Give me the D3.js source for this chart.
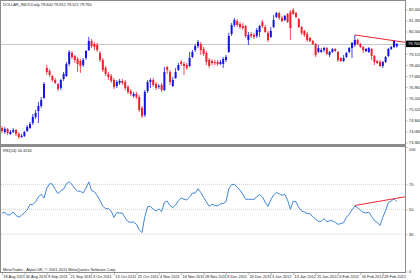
<!DOCTYPE html>
<html><head><meta charset="utf-8">
<script src="https://cdn.jsdelivr.net/npm/d3@7"></script>
<style>html,body{margin:0;padding:0;background:#fff;overflow:hidden}svg{display:block}</style>
</head><body>
<svg id="c" width="420" height="280"></svg>
<script>
const symbol = "DOLLAR_INDX,Daily";
const footer = "MetaTrader - Alpari UK, \u00a9 2001-2011 MetaQuotes Software Corp.";
const dateLabels = ["18 Aug 2011","30 Aug 2011","9 Sep 2011","21 Sep 2011","3 Oct 2011","13 Oct 2011","25 Oct 2011","4 Nov 2011","16 Nov 2011","28 Nov 2011","8 Dec 2011","20 Dec 2011","3 Jan 2012","13 Jan 2012","25 Jan 2012","6 Feb 2012","16 Feb 2012","28 Feb 2012"];
const dateLabelIndex = [0,8,16,24,32,40,48,56,64,72,80,88,96,104,112,120,128,136];
const opens = [74.31,74.06,74.25,73.93,74.06,74.18,73.93,73.73,73.80,74.12,
74.31,74.64,75.03,75.41,75.74,76.26,78.20,78.00,77.68,77.42,
77.16,76.90,77.49,77.68,78.46,79.17,78.98,78.78,78.65,78.39,
78.85,79.36,79.95,79.75,79.69,79.17,78.72,78.20,77.81,77.68,
77.42,77.03,77.23,77.36,77.29,76.97,76.71,76.39,76.52,76.32,
75.61,75.16,76.71,77.29,77.42,77.16,76.97,77.10,76.77,78.26,
77.94,77.03,77.55,78.07,78.59,78.46,78.39,78.33,78.91,79.36,
79.62,79.75,79.43,79.17,78.72,78.65,78.59,78.59,78.46,78.46,
78.72,79.24,80.40,80.98,81.24,81.05,80.92,80.92,80.01,80.40,
80.34,80.27,80.53,81.18,80.85,80.47,80.21,80.85,81.50,81.76,
81.44,81.31,81.70,81.83,81.95,81.76,81.37,80.85,80.60,80.40,
80.14,79.95,79.75,79.24,79.24,79.36,79.49,79.04,79.24,79.43,
79.24,78.85,78.65,78.91,79.24,79.49,79.69,80.01,79.75,79.56,
79.30,79.24,79.43,78.98,78.65,78.59,78.33,78.59,78.98,79.43,
79.56,79.600];
const highs = [74.44,74.38,74.31,74.18,74.31,74.25,74.06,73.93,74.12,74.51,
74.70,75.22,75.48,76.00,76.32,77.29,78.39,78.13,77.75,77.55,
77.23,77.49,77.94,78.59,79.36,79.30,79.04,78.91,78.78,78.85,
79.36,80.21,80.08,79.88,79.82,79.30,78.85,78.33,77.94,77.81,
77.55,77.42,77.49,77.49,77.42,77.10,76.84,76.65,76.65,76.45,
75.74,76.77,77.42,77.55,77.55,77.29,77.16,77.23,78.26,78.33,
78.07,77.62,78.20,78.52,78.72,78.59,78.52,79.24,79.36,79.75,
80.01,79.88,79.56,79.30,78.85,78.78,78.72,78.72,78.72,78.91,
79.04,80.47,81.11,81.44,81.37,81.18,81.11,80.98,80.53,80.53,
80.47,80.79,80.98,81.31,80.98,80.60,80.85,81.63,81.83,81.83,
81.57,81.63,81.76,81.95,82.08,81.83,81.44,80.92,80.66,80.53,
80.21,80.01,79.82,79.69,79.49,79.56,79.56,79.30,79.49,79.49,
79.30,78.91,79.04,79.24,79.56,79.88,80.34,80.08,79.82,79.62,
79.49,79.56,79.49,79.04,78.72,78.72,78.65,78.98,79.49,79.62,
80.01,79.812];
const lows = [73.99,73.93,73.86,73.86,73.99,73.80,73.60,73.67,73.73,74.06,
74.25,74.51,74.90,74.64,75.61,76.19,77.75,77.62,77.29,77.16,
76.71,76.77,77.36,77.62,78.33,78.78,78.52,77.94,77.88,78.26,
78.72,79.30,79.49,79.36,79.24,78.59,77.94,77.68,77.42,77.23,
76.84,76.90,77.10,77.10,76.77,76.52,76.39,76.26,76.19,75.35,
74.96,75.03,76.58,76.90,76.97,76.77,76.84,76.65,76.71,77.81,
77.10,76.97,77.49,78.00,78.33,77.75,78.07,78.26,78.85,79.24,
79.49,79.04,78.98,78.39,78.20,78.39,78.39,78.33,78.39,78.20,
78.59,79.17,80.27,80.85,80.85,80.72,80.66,80.14,79.69,80.14,
80.08,80.14,80.21,80.79,80.47,79.88,80.14,80.79,81.44,81.31,
81.18,81.24,81.11,80.01,81.63,81.44,80.79,80.34,80.21,79.88,
79.88,79.69,78.91,79.17,79.17,79.24,79.04,78.91,79.17,79.24,
78.59,78.59,78.59,78.85,79.17,78.85,79.56,79.69,79.49,79.17,
79.24,79.17,78.72,78.39,78.46,78.26,78.20,78.52,78.91,79.36,
79.49,79.522];
const closes = [74.12,74.25,73.99,74.06,74.18,73.93,73.73,73.80,74.06,74.38,
74.57,75.03,75.29,75.74,76.13,77.16,77.94,77.75,77.42,77.23,
76.84,77.42,77.81,78.46,79.24,78.91,78.72,78.46,78.33,78.72,
79.30,79.95,79.62,79.56,79.36,78.72,78.07,77.81,77.62,77.36,
76.97,77.29,77.36,77.23,76.90,76.65,76.52,76.52,76.32,75.48,
75.09,76.65,77.29,77.42,77.10,76.90,77.03,76.77,77.94,78.07,
77.29,77.42,77.94,78.39,78.46,78.33,78.20,78.85,79.24,79.62,
79.88,79.36,79.11,78.59,78.33,78.52,78.52,78.46,78.59,78.78,
78.91,80.27,80.98,81.31,80.98,80.85,80.79,80.27,80.34,80.27,
80.21,80.66,80.92,80.92,80.53,80.01,80.60,81.31,81.76,81.44,
81.24,81.57,81.18,80.79,81.70,81.50,80.85,80.47,80.34,80.01,
79.95,79.75,79.04,79.49,79.36,79.49,79.11,79.24,79.43,79.30,
78.72,78.65,78.85,79.17,79.49,79.82,80.01,79.75,79.56,79.36,
79.43,79.49,78.98,78.59,78.52,78.33,78.59,78.91,79.43,79.56,
79.95,79.760];
const rsi = [47,47.4,45.5,45.5,47.8,45,43.7,45,47.3,49.5,
53.8,53.6,56,60,62,59,67,70.5,70.3,66,
62.5,64.8,66.2,70.5,72,70,66.5,64.6,64.4,63.2,
67,72,65,64,61,57,52.5,50.5,50.5,48.5,
43.5,47.4,47,46.8,43,40,39.5,39.8,38,33.5,
31.3,44,52,52.3,50,48.6,50.2,48.2,55.5,56.5,
53,51.3,53.5,56.9,59,58,57.5,59.7,63,63,
66.5,63.5,59.5,56,52.3,54,53,52.6,54.3,54.6,
56,66.4,69.8,70,67.5,65.4,62,58,58,58,
58,60,61.8,60,55.6,52.3,57.5,61.5,63.5,62.5,
61.2,62,57.3,50,56.5,56,51.5,48.5,47.8,46.6,
46.4,44,42.2,40.3,40.2,42.5,40,40.7,40.8,39.5,
37.9,38.5,39.2,43.5,46,49.5,52.5,51.3,49.2,47.5,
47,47.6,44.2,41,39.4,37,43.5,49,55.3,56.7,
58.3,56.313];
const priceTicks = [82.000,81.280,80.560,79.120,78.400,77.680,76.960,76.240,75.520,74.800,74.080,73.360];
const rsiTicks = [100,70,50,30,0];
const rsiLevels = [70,50,30];
const priceTrend = [[126,80.34],[144,79.86]];
const rsiTrend = [[126,53],[144,60]];

const svg = d3.select("#c");
const FONT = "'Liberation Sans', Arial, sans-serif";
const FS = 3.9;
const gray = "#8c8c8c";
const blue = "#1414e6", red = "#f0202c", rsiColor = "#3f86d6";

const n = closes.length;
const x = d3.scaleLinear().domain([0, n-1]).range([2, 396.8]);
const yP = d3.scaleLinear().domain([73.36, 82.0]).range([142.7, 9.3]);
const yR = d3.scaleLinear().domain([0, 100]).range([271.5, 147]);
const plotR = 405.5;

svg.append("rect").attr("width",420).attr("height",280).attr("fill","#fff");

// clip paths
const defs = svg.append("defs");
defs.append("clipPath").attr("id","cm").append("rect").attr("x",1).attr("y",1).attr("width",plotR-1).attr("height",143);
defs.append("clipPath").attr("id","cr").append("rect").attr("x",1).attr("y",147).attr("width",plotR-1).attr("height",125);

// main panel
const gm = svg.append("g").attr("clip-path","url(#cm)");
// bid line
gm.append("line").attr("x1",1).attr("x2",plotR).attr("y1",Math.round(yP(closes[n-1]))+0.5).attr("y2",Math.round(yP(closes[n-1]))+0.5)
  .attr("stroke","#b8b8b8").attr("stroke-width",0.8);

const idx = d3.range(n);
gm.selectAll("line.w").data(idx).join("line").attr("class","w")
  .attr("x1",i=>x(i)).attr("x2",i=>x(i))
  .attr("y1",i=>yP(highs[i])).attr("y2",i=>yP(lows[i]))
  .attr("stroke",i=>closes[i]>=opens[i]?blue:red).attr("stroke-width",0.8);
gm.selectAll("rect.b").data(idx).join("rect").attr("class","b")
  .attr("x",i=>x(i)-1).attr("width",2)
  .attr("y",i=>yP(Math.max(opens[i],closes[i])))
  .attr("height",i=>Math.max(0.8, yP(Math.min(opens[i],closes[i]))-yP(Math.max(opens[i],closes[i]))))
  .attr("fill",i=>closes[i]>=opens[i]?blue:red);

gm.append("line").attr("x1",x(priceTrend[0][0])).attr("y1",yP(priceTrend[0][1]))
  .attr("x2",x(priceTrend[1][0])).attr("y2",yP(priceTrend[1][1]))
  .attr("stroke","#e8101c").attr("stroke-width",0.9);

// RSI panel
const gr = svg.append("g").attr("clip-path","url(#cr)");
gr.selectAll("line.lv").data(rsiLevels).join("line").attr("class","lv")
  .attr("x1",1).attr("x2",plotR).attr("y1",d=>yR(d)).attr("y2",d=>yR(d))
  .attr("stroke","#b0b0b0").attr("stroke-width",0.6).attr("stroke-dasharray","1,1");
gr.append("path").datum(idx)
  .attr("d", d3.line().x(i=>x(i)).y(i=>yR(rsi[i])))
  .attr("fill","none").attr("stroke",rsiColor).attr("stroke-width",1);
gr.append("line").attr("x1",x(rsiTrend[0][0])).attr("y1",yR(rsiTrend[0][1]))
  .attr("x2",x(rsiTrend[1][0])).attr("y2",yR(rsiTrend[1][1]))
  .attr("stroke","#e8101c").attr("stroke-width",0.9);

// frames
svg.append("rect").attr("x",0.5).attr("y",0.5).attr("width",plotR-0.5).attr("height",144)
  .attr("fill","none").attr("stroke",gray).attr("stroke-width",1);
svg.append("line").attr("x1",0).attr("x2",plotR).attr("y1",145.5).attr("y2",145.5).attr("stroke",gray).attr("stroke-width",1.5);
svg.append("rect").attr("x",0.5).attr("y",146.5).attr("width",plotR-0.5).attr("height",126)
  .attr("fill","none").attr("stroke",gray).attr("stroke-width",1);

// right price axis
const ax = svg.append("g").attr("font-family",FONT).attr("font-size",FS).attr("fill","#222");
const pa = d3.axisRight(yP).tickValues(priceTicks).tickFormat(d3.format(".3f")).tickSize(2).tickPadding(1.5);
const gpa = svg.append("g").attr("transform",`translate(${plotR},0)`).call(pa);
const ra = d3.axisRight(yR).tickValues(rsiTicks).tickFormat(d3.format("d")).tickSize(2).tickPadding(1.5);
const gra = svg.append("g").attr("transform",`translate(${plotR},0)`).call(ra);
[gpa,gra].forEach(g=>{
  g.select(".domain").remove();
  g.selectAll("line").attr("stroke",gray).attr("stroke-width",0.6);
  g.selectAll("text").attr("font-family",FONT).attr("font-size",FS).attr("fill","#222");
});
gra.selectAll("text").filter(d=>d===100).attr("dy","0.9em");

// last price box
const ly = yP(closes[n-1]);
svg.append("rect").attr("x",plotR+0.5).attr("y",ly-3.2).attr("width",14).attr("height",6.4).attr("fill","#000");
svg.append("text").attr("x",plotR+2.5).attr("y",ly).attr("dy","0.35em").attr("font-family",FONT).attr("font-size",FS)
  .attr("fill","#fff").text(closes[n-1].toFixed(3));

// bottom date axis
const da = d3.axisBottom(x).tickValues(dateLabelIndex).tickFormat((d,i)=>dateLabels[i]).tickSize(2.5).tickPadding(0.5);
const gda = svg.append("g").attr("transform","translate(0,272.5)").call(da);
gda.select(".domain").remove();
gda.selectAll("line").attr("stroke",gray).attr("stroke-width",0.6);
gda.selectAll("text").attr("text-anchor","start").attr("dx","0.8").attr("font-family",FONT).attr("font-size",FS).attr("fill","#222");

// right axis line
svg.append("line").attr("x1",plotR).attr("x2",plotR).attr("y1",0).attr("y2",273).attr("stroke",gray).attr("stroke-width",1);

// texts
const last = n-1;
svg.append("text").attr("x",3).attr("y",6.2).attr("font-family",FONT).attr("font-size",FS).attr("fill","#222")
  .text(`${symbol}  ${opens[last].toFixed(3)} ${highs[last].toFixed(3)} ${lows[last].toFixed(3)} ${closes[last].toFixed(3)}`);
svg.append("text").attr("x",3).attr("y",151.5).attr("font-family",FONT).attr("font-size",FS).attr("fill","#222")
  .text(`RSI(14) ${rsi[last].toFixed(4)}`);
svg.append("text").attr("x",3).attr("y",271).attr("font-family",FONT).attr("font-size",FS).attr("fill","#222")
  .text(footer);
</script>
</body></html>
